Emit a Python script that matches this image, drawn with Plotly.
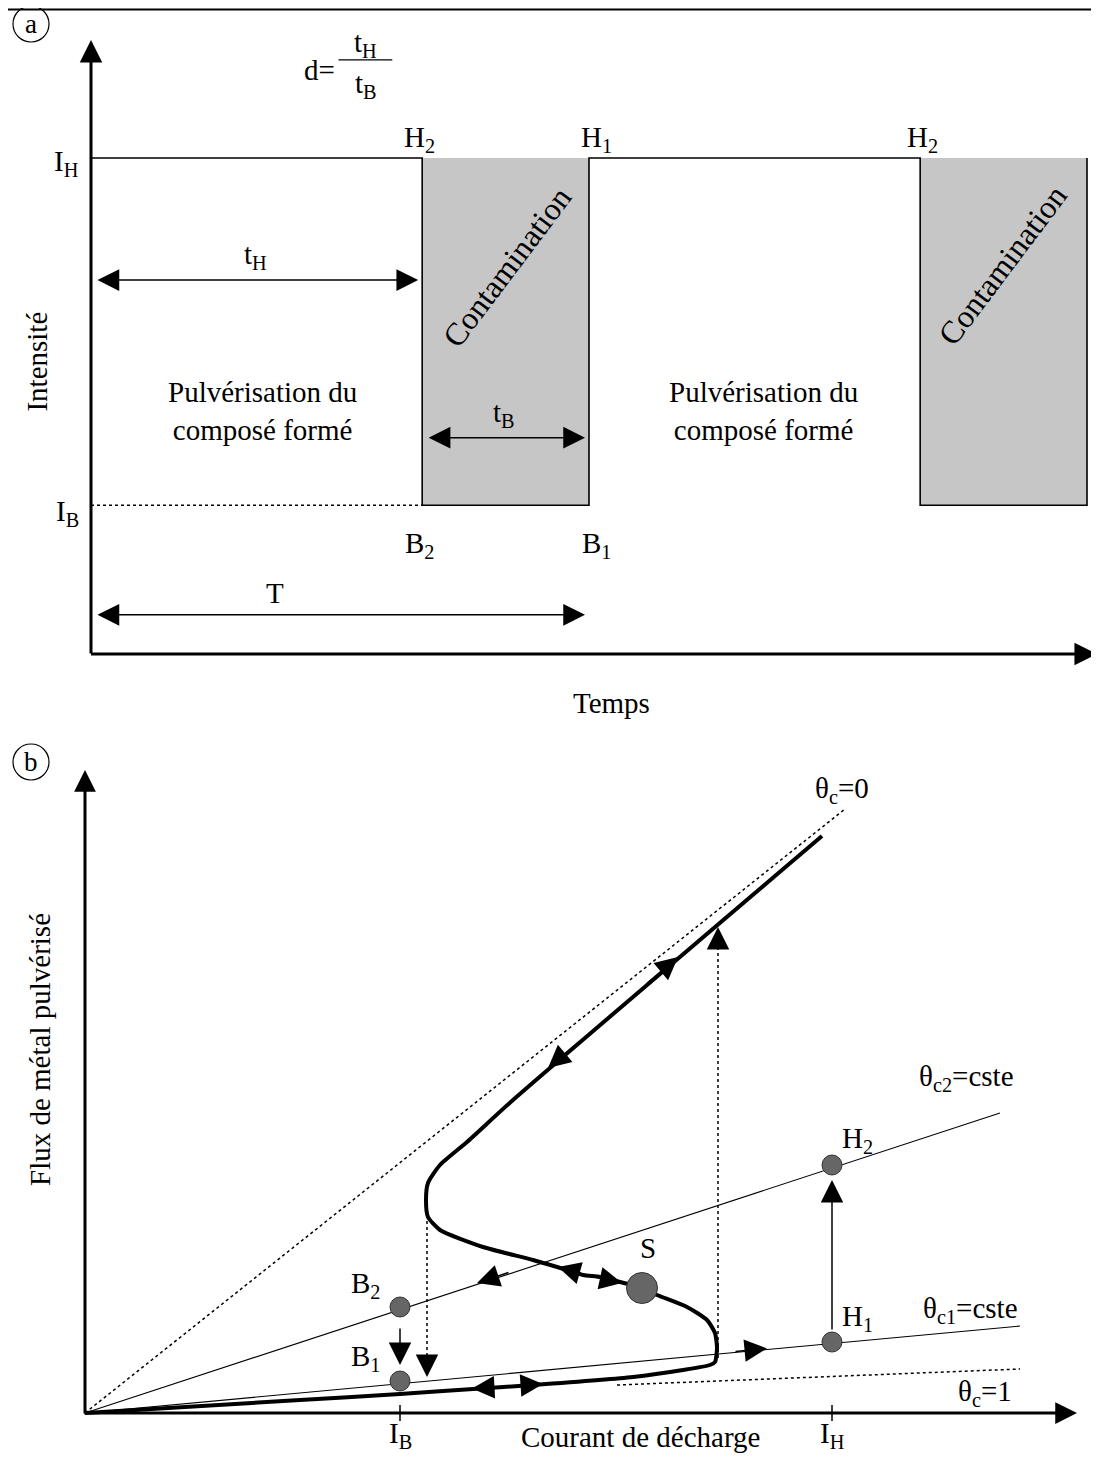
import plotly.graph_objects as go

OFF = 8                      # browser body margin
FIG_W, FIG_H = 1099 - 2 * OFF, 1463 - 2 * OFF
FONT = "Liberation Serif"
FS = 29

# ---------------- Panel (a) data : pulsed discharge current ----------------
wave_t = [0.0, 6.65, 6.65, 10.0, 10.0, 16.65, 16.65, 20.0, 20.0]
wave_I = [10.0, 10.0, 3.0, 3.0, 10.0, 10.0, 3.0, 3.0, 10.0]
I_H_a, I_B_a = 10.0, 3.0
contam_t0 = [6.65, 16.65]
contam_t1 = [10.0, 20.0]
ib_dotted_t = [0.0, 6.65]
t_H_span = [0.0, 6.65]
t_B_span = [6.65, 10.0]
T_span = [0.0, 10.0]

# ---------------- Panel (b) data : sputtered metal flux vs current ----------------
theta0_x = [0.0, 7.6]
theta0_y = [0.0, 6.04]
thetac2_x = [0.0, 9.15]
thetac2_y = [0.0, 3.0]
thetac1_x = [0.0, 9.35]
thetac1_y = [0.0, 0.87]
theta1_x = [5.32, 9.35]
theta1_y = [0.28, 0.44]
curve_x = [0.0, 2.15, 3.15, 3.88, 4.48, 5.48, 5.98, 6.25, 6.30, 6.32, 6.30, 6.22, 6.02,
           5.72, 5.57, 5.35, 5.15, 4.98, 4.82, 4.48, 3.98, 3.55, 3.43, 3.41, 3.43, 3.55,
           3.82, 4.28, 7.37]
curve_y = [0.0, 0.13, 0.19, 0.24, 0.28, 0.36, 0.43, 0.48, 0.51, 0.65, 0.80, 0.93, 1.06,
           1.18, 1.25, 1.31, 1.36, 1.38, 1.43, 1.53, 1.66, 1.83, 1.96, 2.13, 2.30, 2.48,
           2.71, 3.13, 5.77]
point_x = [3.15, 3.15, 7.47, 7.47]          # B2, B1, H2, H1
point_y = [1.06, 0.32, 2.48, 0.71]
S_x = [5.57]
S_y = [1.25]
I_B_b, I_H_b = 3.15, 7.47
drop_x = [3.42, 3.42]
drop_y = [1.98, 0.42]
jump_x = [6.33, 6.33]
jump_y = [0.55, 4.78]

fig = go.Figure()

# ---- panel (a) traces ----
for t0, t1 in zip(contam_t0, contam_t1):
    fig.add_trace(go.Scatter(x=[t0, t1, t1, t0, t0], y=[I_B_a, I_B_a, I_H_a, I_H_a, I_B_a],
                             fill="toself", fillcolor="#c6c6c6", mode="lines",
                             line=dict(width=0, color="rgba(0,0,0,0)"),
                             xaxis="x", yaxis="y", hoverinfo="skip"))
fig.add_trace(go.Scatter(x=wave_t, y=wave_I, mode="lines", line=dict(color="black", width=1.6),
                         xaxis="x", yaxis="y", hoverinfo="skip"))
fig.add_trace(go.Scatter(x=ib_dotted_t, y=[I_B_a, I_B_a], mode="lines",
                         line=dict(color="black", width=1.5, dash="dot"),
                         xaxis="x", yaxis="y", hoverinfo="skip"))

# ---- panel (b) traces ----
dotted = dict(color="black", width=1.5, dash="dot")
fig.add_trace(go.Scatter(x=theta0_x, y=theta0_y, mode="lines", line=dotted, xaxis="x2", yaxis="y2"))
fig.add_trace(go.Scatter(x=theta1_x, y=theta1_y, mode="lines", line=dotted, xaxis="x2", yaxis="y2"))
fig.add_trace(go.Scatter(x=thetac2_x, y=thetac2_y, mode="lines",
                         line=dict(color="black", width=1.1), xaxis="x2", yaxis="y2"))
fig.add_trace(go.Scatter(x=thetac1_x, y=thetac1_y, mode="lines",
                         line=dict(color="black", width=1.1), xaxis="x2", yaxis="y2"))
fig.add_trace(go.Scatter(x=drop_x, y=drop_y, mode="lines", line=dotted, xaxis="x2", yaxis="y2"))
fig.add_trace(go.Scatter(x=jump_x, y=jump_y, mode="lines", line=dotted, xaxis="x2", yaxis="y2"))
fig.add_trace(go.Scatter(x=curve_x, y=curve_y, mode="lines",
                         line=dict(color="black", width=4, shape="spline", smoothing=0.6),
                         xaxis="x2", yaxis="y2"))
fig.add_trace(go.Scatter(x=point_x, y=point_y, mode="markers",
                         marker=dict(size=20, color="#666666", line=dict(color="#333333", width=1)),
                         xaxis="x2", yaxis="y2"))
fig.add_trace(go.Scatter(x=S_x, y=S_y, mode="markers",
                         marker=dict(size=31, color="#666666", line=dict(color="#333333", width=1)),
                         xaxis="x2", yaxis="y2"))

ann = []


def arrow(tip, tail, ax_n, width=1.5, size=2.0, both=False, head=2):
    xr, yr = ("x", "y") if ax_n == 1 else ("x2", "y2")
    d = dict(x=tip[0], y=tip[1], ax=tail[0], ay=tail[1], xref=xr, yref=yr, axref=xr, ayref=yr,
             text="", showarrow=True, arrowhead=head, arrowsize=size, arrowwidth=width,
             arrowcolor="black")
    if both:
        d.update(arrowside="end+start", startarrowhead=head, startarrowsize=size)
    ann.append(d)


def label(x, y, text, ax_n, size=FS, angle=0, xanchor="center", yanchor="middle"):
    xr, yr = ("x", "y") if ax_n == 1 else ("x2", "y2")
    ann.append(dict(x=x, y=y, text=text, xref=xr, yref=yr, showarrow=False, textangle=angle,
                    xanchor=xanchor, yanchor=yanchor,
                    font=dict(family=FONT, size=size, color="black")))


# ---- panel (a) axes and annotations ----
arrow((0, 12.38), (0, -0.02), 1, width=3, size=1.5)
arrow((20.2, 0), (-0.03, 0), 1, width=3, size=1.5)
arrow((t_H_span[1] - 0.08, 7.54), (t_H_span[0] + 0.1, 7.54), 1, width=1.5, size=2.9, both=True)
arrow((t_B_span[1] - 0.08, 4.36), (t_B_span[0] + 0.1, 4.36), 1, width=1.5, size=2.9, both=True)
arrow((T_span[1] - 0.08, 0.79), (T_span[0] + 0.1, 0.79), 1, width=1.5, size=2.9, both=True)

label(3.3, 7.62, "t<sub>H</sub>", 1, yanchor="bottom")
label(8.3, 4.44, "t<sub>B</sub>", 1, yanchor="bottom")
label(3.7, 0.86, "T", 1, yanchor="bottom")
label(-0.2, 9.9, "I<sub>H</sub>", 1, xanchor="right")
label(-0.2, 2.85, "I<sub>B</sub>", 1, xanchor="right")
label(6.6, 9.98, "H<sub>2</sub>", 1, yanchor="bottom")
label(10.15, 9.98, "H<sub>1</sub>", 1, yanchor="bottom")
label(16.7, 9.98, "H<sub>2</sub>", 1, yanchor="bottom")
label(6.6, 2.2, "B<sub>2</sub>", 1)
label(10.15, 2.2, "B<sub>1</sub>", 1)
label(3.45, 4.9, "Pulvérisation du<br>composé formé", 1)
label(13.5, 4.9, "Pulvérisation du<br>composé formé", 1)
label(8.35, 7.8, "Contamination", 1, size=32, angle=-53)
label(18.3, 7.85, "Contamination", 1, size=32, angle=-53)
label(-1.08, 5.9, "Intensité", 1, angle=-90)
label(10.46, -0.98, "Temps", 1)
label(4.93, 11.77, "d=", 1, xanchor="right")
label(5.52, 12.3, "t<sub>H</sub>", 1)
label(5.52, 11.47, "t<sub>B</sub>", 1)

# ---- panel (b) axes and annotations ----
arrow((0, 6.43), (0, -0.02), 2, width=3, size=1.45)
arrow((9.92, 0), (-0.02, 0), 2, width=3, size=1.45)
hs = 3.0
arrow((5.93, 4.56), (5.60, 4.28), 2, width=1.5, size=hs)
arrow((4.63, 3.45), (4.96, 3.73), 2, width=1.5, size=hs)
arrow((4.73, 1.46), (5.05, 1.37), 2, width=1.5, size=hs)
arrow((5.37, 1.30), (5.05, 1.37), 2, width=1.5, size=hs)
arrow((3.87, 0.245), (4.22, 0.265), 2, width=1.5, size=hs)
arrow((4.58, 0.29), (4.22, 0.265), 2, width=1.5, size=hs)
arrow((3.92, 1.30), (4.25, 1.41), 2, width=1.5, size=hs)
arrow((6.82, 0.645), (6.49, 0.614), 2, width=1.5, size=hs)
arrow((3.15, 0.48), (3.15, 0.86), 2, width=1.5, size=hs)
arrow((3.42, 0.36), (3.42, 0.58), 2, width=1.5, size=hs)
arrow((6.33, 4.86), (6.33, 4.64), 2, width=1.5, size=hs)
arrow((7.47, 2.33), (7.47, 0.82), 2, width=1.5, size=hs)

label(-0.45, 3.63, "Flux de métal pulvérisé", 2, angle=-90)
label(5.55, -0.42, "Courant de décharge", 2, yanchor="bottom")
label(I_B_b, -0.42, "I<sub>B</sub>", 2, yanchor="bottom")
label(I_H_b, -0.42, "I<sub>H</sub>", 2, yanchor="bottom")
label(7.57, 6.23, "θ<sub>c</sub>=0", 2)
label(8.81, 3.35, "θ<sub>c2</sub>=cste", 2)
label(8.85, 1.03, "θ<sub>c1</sub>=cste", 2)
label(9.0, 0.2, "θ<sub>c</sub>=1", 2)
label(7.72, 2.73, "H<sub>2</sub>", 2)
label(7.72, 0.95, "H<sub>1</sub>", 2)
label(2.8, 1.28, "B<sub>2</sub>", 2)
label(2.8, 0.55, "B<sub>1</sub>", 2)
label(5.63, 1.65, "S", 2)


def px(x):   # reference pixel -> paper
    return (x - OFF) / FIG_W


def py(y):
    return 1 - (y - OFF) / FIG_H


shapes = [
    dict(type="line", xref="paper", yref="paper", x0=0, x1=1, y0=1 - 1.5 / FIG_H, y1=1 - 1.5 / FIG_H,
         line=dict(color="black", width=2)),
    dict(type="circle", xref="paper", yref="paper", x0=px(13), x1=px(49), y0=py(42), y1=py(6),
         line=dict(color="black", width=1.2)),
    dict(type="circle", xref="paper", yref="paper", x0=px(13), x1=px(49), y0=py(780), y1=py(744),
         line=dict(color="black", width=1.2)),
    dict(type="line", xref="x", yref="y", x0=4.97, x1=6.05, y0=11.98, y1=11.98,
         line=dict(color="black", width=1.2)),
    dict(type="line", xref="x2", yref="y2", x0=I_B_b, x1=I_B_b, y0=-0.08, y1=0.08,
         line=dict(color="black", width=1.5)),
    dict(type="line", xref="x2", yref="y2", x0=I_H_b, x1=I_H_b, y0=-0.08, y1=0.08,
         line=dict(color="black", width=1.5)),
]
for cy, txt in ((24, "a"), (762, "b")):
    ann.append(dict(x=px(31), y=py(cy), xref="paper", yref="paper", text=txt, showarrow=False,
                    xanchor="center", yanchor="middle",
                    font=dict(family=FONT, size=27, color="black")))

# reference pixel anchors of each panel's origin and scale
a_x0, a_sx = 91 - OFF, 49.8
a_y0, a_sy = 654 - OFF, 49.6
b_x0, b_sx = 85 - OFF, 100.0
b_y0, b_sy = 1413 - OFF, 100.0
split = 710 - OFF

fig.update_layout(
    width=FIG_W, height=FIG_H, margin=dict(l=0, r=0, t=0, b=0),
    paper_bgcolor="white", plot_bgcolor="white", showlegend=False,
    xaxis=dict(domain=[0, 1], range=[-a_x0 / a_sx, (FIG_W - a_x0) / a_sx], visible=False, anchor="y"),
    yaxis=dict(domain=[1 - split / FIG_H, 1], range=[(a_y0 - split) / a_sy, a_y0 / a_sy],
               visible=False, anchor="x"),
    xaxis2=dict(domain=[0, 1], range=[-b_x0 / b_sx, (FIG_W - b_x0) / b_sx], visible=False, anchor="y2"),
    yaxis2=dict(domain=[0, 1 - split / FIG_H], range=[(b_y0 - FIG_H) / b_sy, (b_y0 - split) / b_sy],
                visible=False, anchor="x2"),
    annotations=ann, shapes=shapes,
)

fig.write_html("out.html")
